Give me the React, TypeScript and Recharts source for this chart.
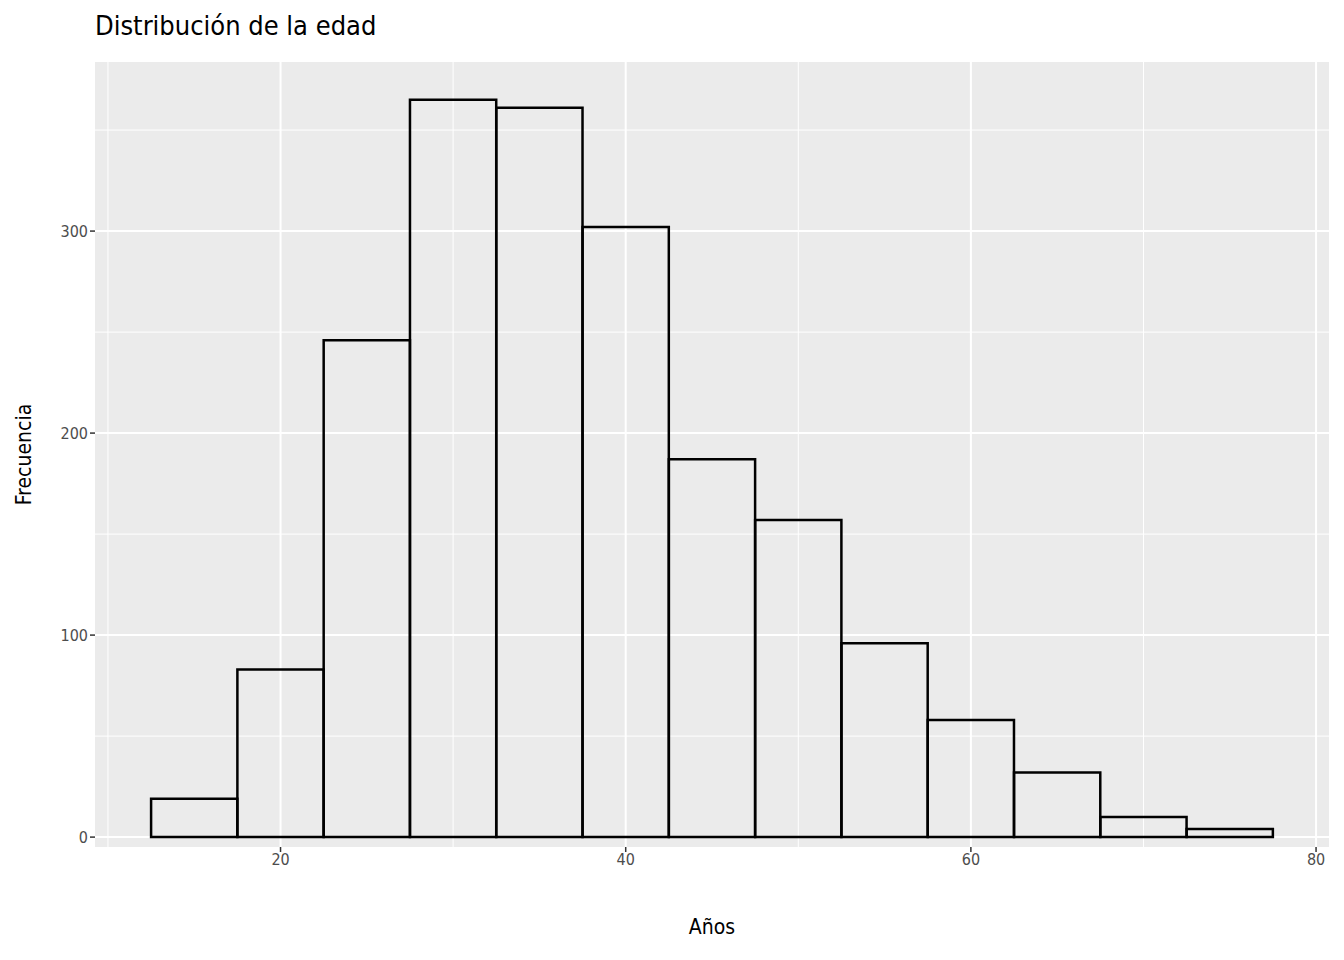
import React from 'react';
import { Bar, CartesianGrid, ComposedChart, XAxis, YAxis } from 'recharts';

// bin centres (años), width 5
const binCenters = [15, 20, 25, 30, 35, 40, 45, 50, 55, 60, 65, 70, 75];
const counts = [19, 83, 246, 365, 361, 302, 187, 157, 96, 58, 32, 10, 4];
const xTicks = [20, 40, 60, 80];
const yTicks = [0, 100, 200, 300];
const xMinor = [10, 30, 50, 70];
const yMinor = [50, 150, 250, 350];

const data = binCenters.map((x, i) => ({ x, count: counts[i] }));

const FONT = '"Liberation Sans Narrow", "DejaVu Sans Condensed", sans-serif';
const PX_PER_YEAR = 1035 / 60;

export default function App() {
  return (
    <div style={{ position: 'fixed', left: 0, top: 0, width: 1344, height: 960, background: '#fff', fontFamily: FONT }}>
      <div style={{ position: 'absolute', left: 95, top: 10, fontSize: 27, color: '#000' }}>
        Distribución de la edad
      </div>
      <ComposedChart
        width={1344}
        height={960}
        data={data}
        margin={{ top: 62, right: 15, bottom: 0, left: 0 }}
      >
        <CartesianGrid
          fill="#ebebeb"
          stroke="#fff"
          strokeWidth={1}
          horizontalValues={yMinor}
          verticalValues={xMinor}
        />
        <CartesianGrid
          fill="none"
          stroke="#fff"
          strokeWidth={2}
          horizontalValues={yTicks}
          verticalValues={xTicks}
        />
        <XAxis
          dataKey="x"
          type="number"
          domain={[9.25, 80.75]}
          ticks={xTicks}
          allowDataOverflow
          height={113}
          axisLine={false}
          tickLine={{ stroke: '#333', strokeWidth: 1.5 }}
          tickSize={5}
          tick={{ fontSize: 16, fill: '#4d4d4d', fontFamily: FONT }}
          label={{ value: 'Años', position: 'insideTop', offset: 72, fontSize: 21, fill: '#000', fontFamily: FONT }}
        />
        <YAxis
          type="number"
          domain={[-4.9, 383.7]}
          ticks={yTicks}
          allowDataOverflow
          width={95}
          axisLine={false}
          tickLine={{ stroke: '#333', strokeWidth: 1.5 }}
          tickSize={5}
          tick={{ fontSize: 16, fill: '#4d4d4d', fontFamily: FONT }}
          label={{ value: 'Frecuencia', angle: -90, position: 'insideLeft', offset: 24, fontSize: 21, fill: '#000', fontFamily: FONT, style: { textAnchor: 'middle' } }}
        />
        <Bar
          dataKey="count"
          barSize={5 * PX_PER_YEAR}
          fill="none"
          stroke="#000"
          strokeWidth={2.5}
          isAnimationActive={false}
        />
      </ComposedChart>
    </div>
  );
}
